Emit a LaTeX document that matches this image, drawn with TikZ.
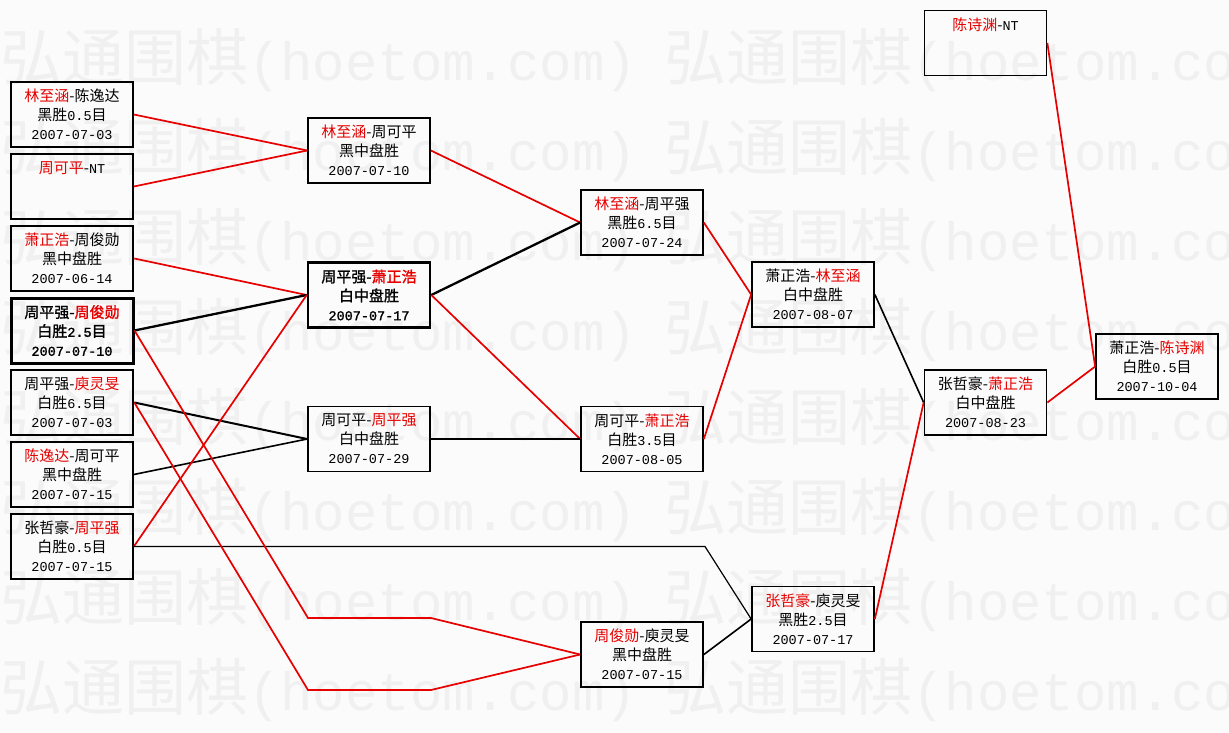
\documentclass[tikz,border=0pt]{standalone}
\usepackage{fontspec}
\setmainfont{Noto Sans CJK SC}
\newfontfamily\cjkbold{Noto Sans CJK SC}[FakeBold=1.5]
\newfontfamily\monofnt{Liberation Mono}
\newfontfamily\monobold{Liberation Mono}[FakeBold=1.5]
\definecolor{lred}{RGB}{230,0,0}
\definecolor{bgc}{RGB}{251,251,251}
\definecolor{wmc}{RGB}{240,240,240}
\newcommand\wn[1]{\textcolor{lred}{#1}}
\newcommand\dg[1]{{\monofnt\fontsize{13.5}{19}\selectfont #1}}
\newcommand\dgb[1]{{\monobold\fontsize{13.5}{19}\selectfont #1}}
\tikzset{
  game/.style={draw=black, line width=1.7pt, minimum width=122pt, minimum height=65pt,
    inner sep=0pt, align=center, font=\fontsize{15}{19}\selectfont},
  gamethick/.style={game, line width=2.6pt},
  boldtext/.style={font=\cjkbold\fontsize{15}{19}\selectfont},
  wm/.style={text=wmc, inner sep=0pt, anchor=west, font=\fontsize{62}{62}\selectfont},
  rl/.style={draw=lred, line width=1.7pt},
  bl/.style={draw=black, line width=1.6pt},
}
\begin{document}
\begin{tikzpicture}[x=1pt,y=-1pt]
\fill[bgc] (0,0) rectangle (1229,733);
\useasboundingbox (0,0) rectangle (1229,733);
% watermark
\begin{scope}
\clip (0,0) rectangle (1229,733);
\foreach \r in {0,...,7}{
  \foreach \c in {0,1}{
    \node[wm] (wm\r\c) at (\c*664, 60+\r*90) {弘通围棋{\monofnt\fontsize{54}{54}\selectfont (hoetom.com)}};
  }
}
\end{scope}
% column 1
\node[game] (b1) at (72,114.5) {\wn{林至涵}-陈逸达\\黑胜\dg{0.5}目\\\dg{2007-07-03}};
\node[game] (b2) at (72,186.5) {\wn{周可平}-\dg{NT}\\\mbox{}\\\mbox{}};
\node[gamethick] (b3) at (72,258.5) {\wn{萧正浩}-周俊勋\\黑中盘胜\\\dg{2007-06-14}};
\node[gamethick, line width=3pt, boldtext] (b4) at (72,330.5) {周平强-\wn{周俊勋}\\白胜\dgb{2.5}目\\\dgb{2007-07-10}};
\node[gamethick] (b5) at (72,402.5) {周平强-\wn{庾灵旻}\\白胜\dg{6.5}目\\\dg{2007-07-03}};
\node[game] (b6) at (72,474.5) {\wn{陈逸达}-周可平\\黑中盘胜\\\dg{2007-07-15}};
\node[game] (b7) at (72,546.5) {张哲豪-\wn{周平强}\\白胜\dg{0.5}目\\\dg{2007-07-15}};
% column 2
\node[game] (A) at (369,150.5) {\wn{林至涵}-周可平\\黑中盘胜\\\dg{2007-07-10}};
\node[gamethick, boldtext] (B) at (369,295) {周平强-\wn{萧正浩}\\白中盘胜\\\dgb{2007-07-17}};
\node[game] (C) at (369,439) {周可平-\wn{周平强}\\白中盘胜\\\dg{2007-07-29}};
% column 3
\node[game] (D) at (642,222.5) {\wn{林至涵}-周平强\\黑胜\dg{6.5}目\\\dg{2007-07-24}};
\node[game] (E) at (642,439) {周可平-\wn{萧正浩}\\白胜\dg{3.5}目\\\dg{2007-08-05}};
\node[game] (F) at (642,654.5) {\wn{周俊勋}-庾灵旻\\黑中盘胜\\\dg{2007-07-15}};
% column 4
\node[game] (G) at (813,294.5) {萧正浩-\wn{林至涵}\\白中盘胜\\\dg{2007-08-07}};
\node[game] (H) at (813,619) {\wn{张哲豪}-庾灵旻\\黑胜\dg{2.5}目\\\dg{2007-07-17}};
% column 5
\node[game] (I) at (985.5,402.5) {张哲豪-\wn{萧正浩}\\白中盘胜\\\dg{2007-08-23}};
\node[game] (J) at (985.5,43) {\wn{陈诗渊}-\dg{NT}\\\mbox{}\\\mbox{}};
\node[game] (K) at (1157,366.5) {萧正浩-\wn{陈诗渊}\\白胜\dg{0.5}目\\\dg{2007-10-04}};
% bend points
\coordinate (p7) at (705,546.5);
\coordinate (p4a) at (308,618);
\coordinate (p4b) at (431,618);
\coordinate (p5a) at (308,690);
\coordinate (p5b) at (431,690);
% connectors
\draw[rl] (b1.east) -- (A.west);
\draw[rl] (b2.east) -- (A.west);
\draw[rl] (b3.east) -- (B.west);
\draw[bl, line width=2.3pt] (b4.east) -- (B.west);
\draw[bl, line width=2pt] (b5.east) -- (C.west);
\draw[bl] (b6.east) -- (C.west);
\draw[rl] (b7.east) -- (B.west);
\draw[bl, line width=1.2pt] (b7.east) -- (p7) -- (H.west);
\draw[rl] (b4.east) -- (p4a) -- (p4b) -- (F.west);
\draw[rl] (b5.east) -- (p5a) -- (p5b) -- (F.west);
\draw[rl] (A.east) -- (D.west);
\draw[bl, line width=2.3pt] (B.east) -- (D.west);
\draw[rl] (B.east) -- (E.west);
\draw[bl] (C.east) -- (E.west);
\draw[rl] (D.east) -- (G.west);
\draw[rl] (E.east) -- (G.west);
\draw[bl] (F.east) -- (H.west);
\draw[bl] (G.east) -- (I.west);
\draw[rl] (H.east) -- (I.west);
\draw[rl] (I.east) -- (K.west);
\draw[rl] (J.east) -- (K.west);
\end{tikzpicture}
\end{document}
